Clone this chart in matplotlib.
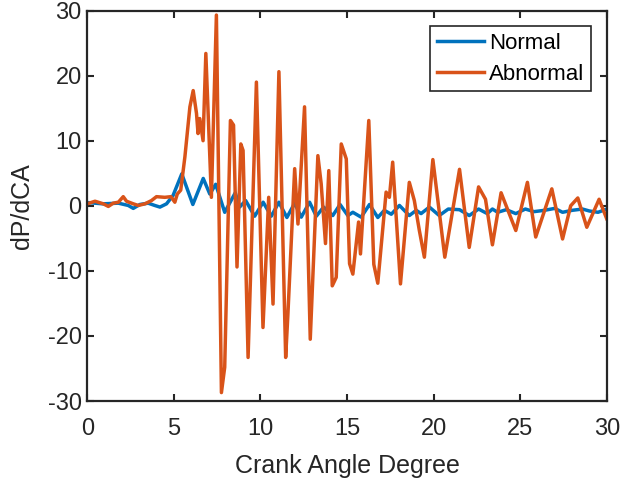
import matplotlib
matplotlib.use("Agg")
import matplotlib.pyplot as plt

plt.rcParams['font.family'] = ['Liberation Sans', 'DejaVu Sans']
plt.rcParams['axes.unicode_minus'] = False

normal_ca = [0, 0.9, 1.8, 2.37, 2.66, 3.04, 3.52, 3.9, 4.2, 4.58, 4.96, 5.46, 6.1, 6.7, 7.08, 7.42,
             7.94, 8.55, 8.8, 9.15, 9.67, 10.16, 10.63, 11.07, 11.53, 11.98, 12.36, 12.84, 13.23,
             13.65, 14.18, 14.6, 15.05, 15.34, 15.82, 16.3, 16.78, 17.16, 17.56, 18.03, 18.6, 19.0,
             19.28, 19.76, 20.33, 20.85, 21.5, 22.06, 22.6, 23.1, 23.4, 23.7, 24.2, 24.75, 25.3,
             25.8, 26.4, 27.0, 27.45, 28.0, 28.6, 29.0, 29.5, 30.0]
normal_val = [0.5, 0.3, 0.4, 0.05, -0.4, 0.2, 0.4, 0.05, -0.2, 0.3, 1.6, 4.9, 0.2, 4.2, 1.8, 3.3,
              -1.0, 2.0, -0.2, 0.8, -1.6, 0.55, -1.6, 0.55, -1.8, 0.4, -1.75, 0.55, -1.6,
              -0.2, -1.5, 0.2, -1.5, -1.0, -1.75, 0.2, -1.8, -0.7, -1.3, 0.05, -1.5, -0.7,
              -1.2, -0.2, -1.5, -0.5, -0.6, -1.5, -0.5, -1.2, -0.5, -1.0, -0.6, -1.2, -0.5,
              -0.9, -0.7, -0.4, -1.0, -0.7, -0.5, -0.8, -1.0, -0.5]

abnormal_ca = [0.0, 0.45, 0.93, 1.22, 1.5, 1.8, 2.08, 2.27, 2.66, 2.95, 3.33, 3.71, 4.0, 4.48, 4.83,
               5.06, 5.2, 5.4, 5.64, 5.93, 6.12, 6.31, 6.4, 6.5, 6.69, 6.85, 7.17, 7.46, 7.75, 7.94,
               8.27, 8.45, 8.65, 8.87, 9.0, 9.29, 9.77, 10.15, 10.48, 10.73, 11.07, 11.46, 11.59,
               11.98, 12.17, 12.55, 12.88, 13.32, 13.51, 13.76, 13.95, 14.15, 14.38, 14.67, 14.96,
               15.15, 15.34, 15.67, 15.78, 16.26, 16.55, 16.78, 17.26, 17.45, 17.64, 18.09, 18.6,
               18.89, 19.18, 19.47, 19.96, 20.65, 21.5, 22.06, 22.6, 23.0, 23.4, 23.9, 24.75,
               25.42, 25.9, 26.83, 27.45, 27.92, 28.33, 28.85, 29.56, 30.0]
abnormal_val = [0.3, 0.7, 0.3, -0.1, 0.4, 0.55, 1.4, 0.7, 0.3, 0.05, 0.3, 0.8, 1.4, 1.3, 1.4,
                0.55, 1.8, 2.4, 7.5, 15.2, 17.7, 14.2, 11.1, 13.4, 10.0, 23.4, 1.3, 29.3, -28.7, -24.8,
                13.1, 12.4, -9.4, 9.5, 8.5, -23.3, 19.0, -18.7, 1.3, -15.1, 20.6, -23.3, -16.6,
                5.7, -2.8, 15.2, -20.5, 7.7, 3.4, -5.8, 5.4, -12.3, -11.0, 9.5, 7.2,
                -8.9, -10.5, -2.5, -7.4, 13.1, -9.0, -11.9, 2.1, 1.3, 6.7, -12.0, 3.6,
                0.8, -3.8, -7.9, 7.1, -7.9, 5.6, -6.4, 2.9, 1.0, -6.0, 2.0, -3.8,
                3.6, -4.8, 2.6, -5.1, 0.0, 1.2, -3.3, 1.0, -2.0]

x_ticks = [0, 5, 10, 15, 20, 25, 30]
y_ticks = [-30, -20, -10, 0, 10, 20, 30]

fig = plt.figure(figsize=(6.32, 4.78), dpi=100)
ax = fig.add_axes([0.138, 0.161, 0.822, 0.817])
ax.plot(normal_ca, normal_val, color='#0072BD', lw=2.5, label='Normal')
ax.plot(abnormal_ca, abnormal_val, color='#D95319', lw=2.5, label='Abnormal')
ax.set_xlim(0, 30)
ax.set_ylim(-30, 30)
ax.set_xticks(x_ticks)
ax.set_yticks(y_ticks)
ax.tick_params(direction='in', length=5, width=1.5, top=True, right=True,
               labelsize=17, colors='#262626')
ax.tick_params(axis='x', pad=12)
ax.tick_params(axis='y', pad=4)
for s in ax.spines.values():
    s.set_linewidth(1.6)
    s.set_color('#262626')
ax.set_xlabel('Crank Angle Degree', fontsize=18, color='#262626', labelpad=10)
ax.set_ylabel('dP/dCA', fontsize=18, color='#262626', labelpad=10)
leg = ax.legend(loc='upper right', fontsize=16, fancybox=False, edgecolor='#262626',
                framealpha=1, handlelength=2.1, handletextpad=0.25, borderpad=0.3,
                labelspacing=0.45, borderaxespad=0.7)
leg.get_frame().set_linewidth(1.2)
fig.savefig('out.png', dpi=100)
